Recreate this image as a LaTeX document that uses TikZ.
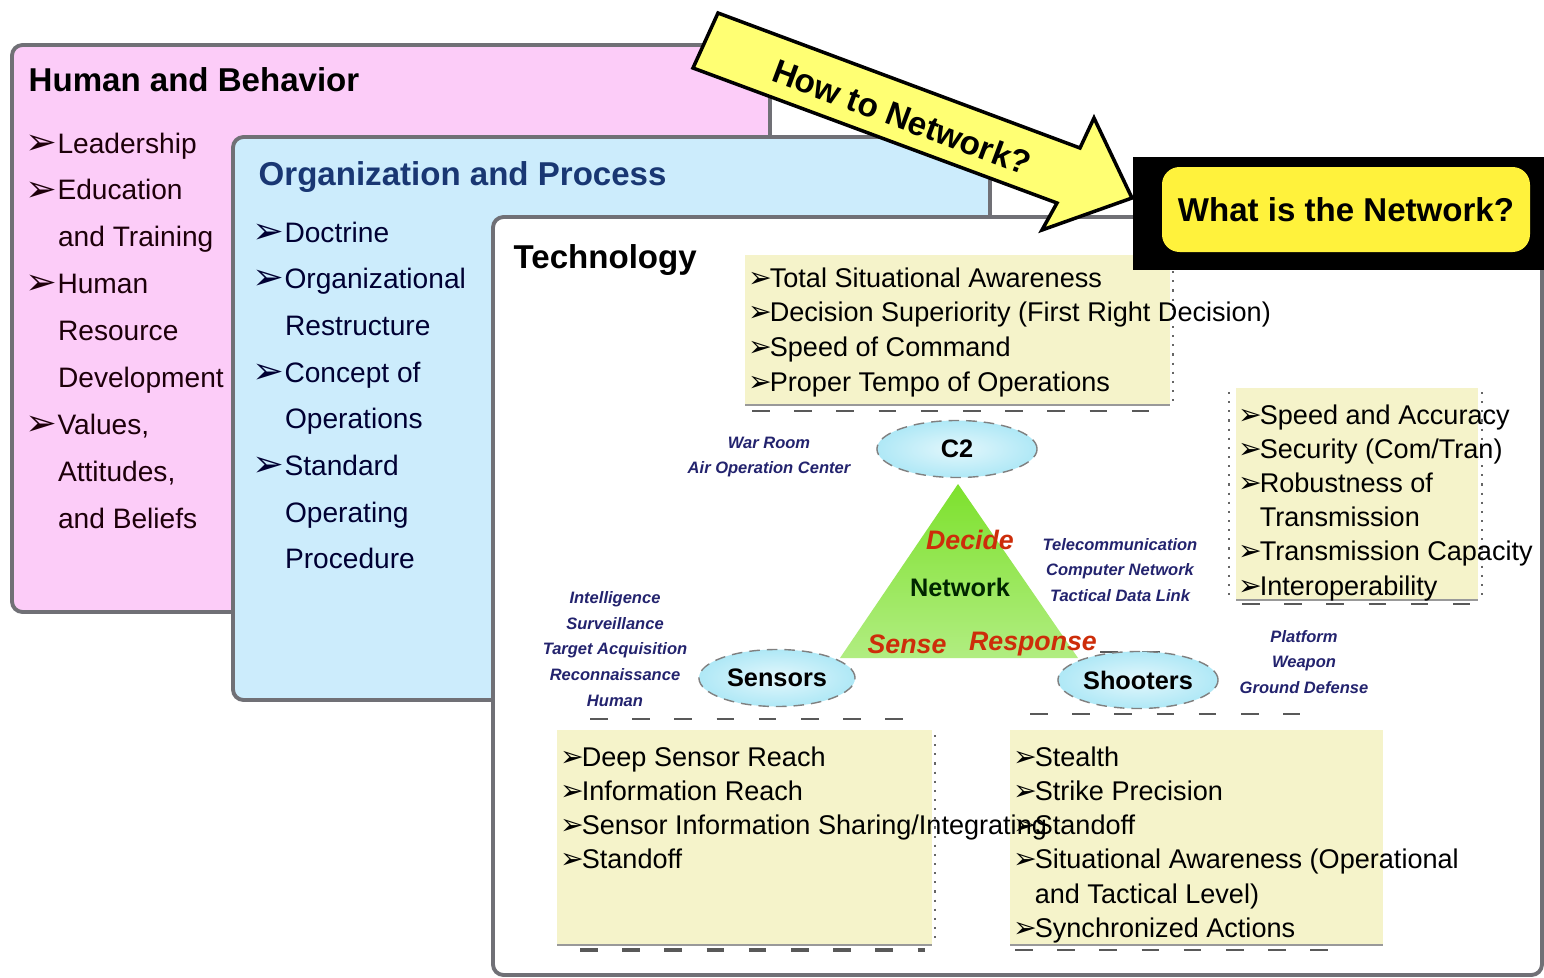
\documentclass[tikz,border=0pt]{standalone}
\usepackage{fontspec}
\setmainfont{Liberation Sans}
\newfontfamily\dingfont{DejaVu Sans}
\usepackage{graphicx}
\usepackage{tikz}
\usetikzlibrary{
  positioning,
  shapes.geometric
}

\definecolor{hbpink}{RGB}{252,204,248}
\definecolor{opblue}{RGB}{204,236,252}
\definecolor{listcream}{RGB}{245,243,202}
\definecolor{framegray}{RGB}{112,112,118}
\definecolor{titleblue}{RGB}{25,55,115}
\definecolor{tagnavy}{RGB}{35,35,110}
\definecolor{actred}{RGB}{205,45,10}
\definecolor{netgreen}{RGB}{125,225,45}
\definecolor{arrowyellow}{RGB}{255,255,115}
\definecolor{askyellow}{RGB}{255,242,60}
\definecolor{hubcyan}{RGB}{175,232,246}

% list markers: big ones for the panels, tight ones for the yellow notes
\newcommand{\bul}{\raisebox{-0.04em}{\scalebox{1.35}[1.3]{\dingfont\char"27A2}}}
\newcommand{\ind}{\hspace*{1.15em}}
\newcommand{\tip}{\makebox[0.78em][l]{\scalebox{1.05}{\dingfont\char"27A2}}}
\newcommand{\tind}{\hspace*{0.78em}}

\begin{document}
\begin{tikzpicture}[
        x=0.01cm, y=-0.01cm,
        panel/.style={draw=framegray, line width=1.1pt, rounded corners=3pt},
        head/.style={anchor=base west, inner sep=0, font=\fontsize{9.4}{11}\selectfont\bfseries},
        hbitem/.style={anchor=base west, inner sep=0, font=\fontsize{8}{9.6}\selectfont, text=black!85!purple},
        opitem/.style={hbitem, text=black!80!blue},
        need/.style={anchor=base west, inner sep=0, font=\fontsize{7.7}{9}\selectfont},
        rim/.style={gray!80, line width=0.6pt},
        tag/.style={align=center, inner sep=0, font=\fontsize{4.7}{7.3}\selectfont\bfseries\itshape, text=tagnavy},
        hub/.style={ellipse, draw=gray, densely dashed, line width=0.4pt, minimum width=1.6cm, minimum height=0.57cm,
            inner sep=0, inner color=hubcyan!35, outer color=hubcyan, font=\fontsize{7.2}{8}\selectfont\bfseries},
        act/.style={inner sep=0, font=\fontsize{7.6}{9}\selectfont\bfseries\itshape, text=actred},
        handle/.style={gray!70!black, line width=0.5pt, dash pattern=on 5pt off 7pt},
        grip/.style={gray!80!black, line width=0.6pt, dotted}
    ]
    \useasboundingbox (0,0) rectangle (1544,978);

    % Human and Behavior
    \draw[panel, fill=hbpink] (12,45) rectangle (770,612);
    \node[head] (hb-title) at (28,91) {Human and Behavior};
    \foreach \t [count=\i from 0] in {{\bul Leadership},{\bul Education},{\ind and Training},
        {\bul Human},{\ind Resource},{\ind Development},{\bul Values,},{\ind Attitudes,},{\ind and Beliefs}}
        \node[hbitem] (hb-\i) at (25,{153+46.9*\i}) {\t};

    % Organization and Process
    \draw[panel, fill=opblue] (233,137) rectangle (990,700);
    \node[head, text=titleblue] (op-title) at (258,185) {Organization and Process};
    \foreach \t [count=\i from 0] in {{\bul Doctrine},{\bul Organizational},{\ind Restructure},
        {\bul Concept of},{\ind Operations},{\bul Standard},{\ind Operating},{\ind Procedure}}
        \node[opitem] (op-\i) at (252,{242+46.7*\i}) {\t};

    % Technology
    \draw[panel, fill=white] (493,217) rectangle (1542,975);
    \node[head] (tech-title) at (513,268) {Technology};

    % C2 needs
    \fill[listcream] (745,255) rectangle (1170,405);
    \draw[rim] (745,405) -- (1170,405);
    \draw[grip] (1173,262) -- (1173,408);
    \draw[handle] (752,411) -- (1165,411);
    \foreach \t [count=\i from 0] in {{\tip Total Situational Awareness},
        {\tip Decision Superiority (First Right Decision)},{\tip Speed of Command},{\tip Proper Tempo of Operations}}
        \node[need] (c2n-\i) at (748,{287+34.7*\i}) {\t};

    % network needs
    \fill[listcream] (1236,388) rectangle (1478,600);
    \draw[rim] (1236,600) -- (1478,600);
    \draw[grip] (1229,392) -- (1229,600);
    \draw[grip] (1482,392) -- (1482,600);
    \draw[handle] (1242,604) -- (1470,604);
    \foreach \t [count=\i from 0] in {{\tip Speed and Accuracy},{\tip Security (Com/Tran)},{\tip Robustness of},
        {\tind Transmission},{\tip Transmission Capacity},{\tip Interoperability}}
        \node[need] (netn-\i) at (1238,{424+34.2*\i}) {\t};

    % the network triangle
    \shade[top color=netgreen, bottom color=netgreen!60!white] (958,484) -- (840,658) -- (1078,658) -- cycle;
    \node[act] (decide) at (970,540) {Decide};
    \node[inner sep=0, font=\fontsize{7.2}{8}\selectfont\bfseries, text=black!85!green] (network) at (960,587) {Network};
    \node[act] (sense) at (907,644) {Sense};
    \node[act] (response) at (1033,644) {Response};
    \draw[handle] (1100,652) -- (1172,652);

    % nodes of the triangle
    \node[hub] (c2) at (957,449) {C2};
    \node[hub, minimum width=1.56cm] (sensors) at (777,678) {Sensors};
    \node[hub] (shooters) at (1138,680) {Shooters};

    \node[tag] (c2-tag) at (769,457) {War Room\\Air Operation Center};
    \node[tag] (net-tag) at (1120,570) {Telecommunication\\Computer Network\\Tactical Data Link};
    \node[tag] (sen-tag) at (615,649) {Intelligence\\Surveillance\\Target Acquisition\\Reconnaissance\\Human};
    \node[tag] (sho-tag) at (1304,662) {Platform\\Weapon\\Ground Defense};

    % sensor and shooter needs
    \draw[handle] (590,719) -- (925,719);
    \draw[handle] (1030,714) -- (1300,714);
    \fill[listcream] (557,730) rectangle (932,945);
    \draw[rim] (557,945) -- (932,945);
    \draw[grip] (935,735) -- (935,945);
    \draw[handle, line width=1pt] (580,950) -- (925,950);
    \fill[listcream] (1010,730) rectangle (1383,945);
    \draw[rim] (1010,945) -- (1383,945);
    \draw[handle] (1015,950) -- (1335,950);
    \foreach \t [count=\i from 0] in {{\tip Stealth},{\tip Strike Precision},{\tip Standoff},
        {\tip Situational Awareness (Operational},{\tind and Tactical Level)},{\tip Synchronized Actions}}
        \node[need] (shon-\i) at (1013,{766+34.3*\i}) {\t};
    \foreach \t [count=\i from 0] in {{\tip Deep Sensor Reach},{\tip Information Reach},
        {\tip Sensor Information Sharing/Integrating},{\tip Standoff}}
        \node[need] (senn-\i) at (560,{766+34.3*\i}) {\t};

    % question box
    \fill[black] (1133,157) rectangle (1544,270);
    \fill[askyellow, rounded corners=5pt] (1162,167) rectangle (1530,252);
    \node[font=\fontsize{9.4}{11}\selectfont\bfseries] (what) at (1346,210) {What is the Network?};

    % big arrow
    \draw[line width=1pt, fill=arrowyellow, line join=miter]
        (718,13) -- (1080,148) -- (1094,118) -- (1132,198) -- (1042,230) -- (1057,203) -- (693,68) -- cycle;
    \node[rotate=-20.5, font=\fontsize{9.5}{11}\selectfont\bfseries] (how) at (902,117) {How to Network?};
\end{tikzpicture}
\end{document}
